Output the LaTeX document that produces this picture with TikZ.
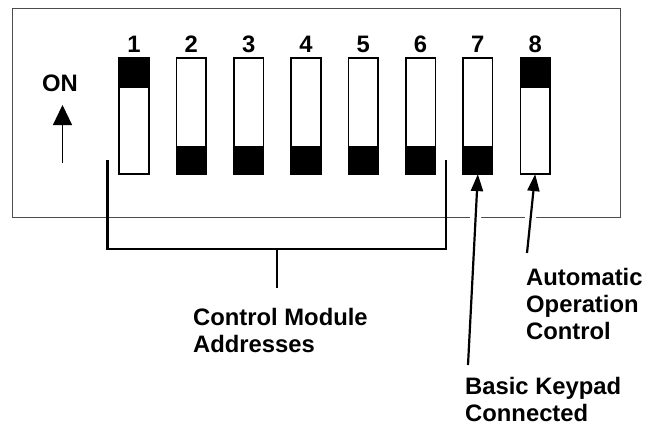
\documentclass[tikz,border=0pt]{standalone}
\usepackage{fontspec}
\setmainfont{Liberation Sans}
\usetikzlibrary{arrows.meta,calc}
\begin{document}
\begin{tikzpicture}[x=1pt,y=-1pt,
  lbl/.style={font=\fontsize{23.8}{27}\selectfont\bfseries, inner sep=0pt, align=left},
  sw/.style={draw=black, line width=1.1pt, fill=white, minimum width=29pt, minimum height=115pt, inner sep=0pt, anchor=north west},
  lead/.style={line width=2.2pt, -{Triangle[width=12pt,length=17pt]}},
  brk/.style={line width=2.2pt},
  halo/.style={draw=white, line width=11pt}]
\useasboundingbox (0,0) rectangle (652,425);
% panel
\node[draw=black!70, line width=1pt, minimum width=608pt, minimum height=208pt, inner sep=0pt, anchor=north west] (panel) at (12,8.5) {};
% leader tails
\coordinate (t7) at (468,365);
\coordinate (t8) at (527,253);
% switches
\foreach \i in {1,...,8}{
  \node[sw] (s\i) at ({119+57.3*(\i-1)},58) {};
  \node[lbl, anchor=base] (n\i) at ($(s\i.north)+(0,-5)$) {\i};
}
% halos where leaders cross the panel edge
\draw[halo] (t7) -- ($(t7)!0.85!(s7.south)$);
\draw[halo] (t8) -- ($(t8)!0.6!(s8.south)$);
% switch positions
\foreach \i in {1,8}{
  \fill[black] (s\i.north west) rectangle ($(s\i.north east)+(0,30)$);
  \draw[line width=1.1pt] (s\i.north west) rectangle (s\i.south east);
}
\foreach \i in {2,...,7}{
  \fill[black] ($(s\i.south west)+(0,-28)$) rectangle (s\i.south east);
  \draw[line width=1.1pt] (s\i.north west) rectangle (s\i.south east);
}
% ON indicator
\node[lbl, anchor=base] (on) at (60,92) {ON};
\coordinate (onlow) at (62.5,163);
\coordinate (onhigh) at (62.5,105);
\draw[line width=1.2pt, -{Triangle[width=19pt,length=20pt]}] (onlow) -- (onhigh);
% bracket
\coordinate (b1) at (107.5,160);
\coordinate (b2) at (107.5,249);
\coordinate (b3) at (446,249);
\coordinate (b4) at (446,160);
\coordinate (bm) at (277,249);
\coordinate (bs) at (277,288);
\draw[brk] (b1) -- (b2) -- (b3) -- (b4);
\draw[brk] (bm) -- (bs);
% labels (base = baseline of last line)
\node[lbl, anchor=base west] (cm) at (193,352) {Control Module\\Addresses};
\node[lbl, anchor=base west] (bk) at (465,421) {Basic Keypad\\Connected};
\node[lbl, anchor=base west] (ao) at (526,339) {Automatic\\Operation\\Control};
% leaders
\draw[lead] (t7) -- (s7.south);
\draw[lead] (t8) -- (s8.south);
\end{tikzpicture}
\end{document}
